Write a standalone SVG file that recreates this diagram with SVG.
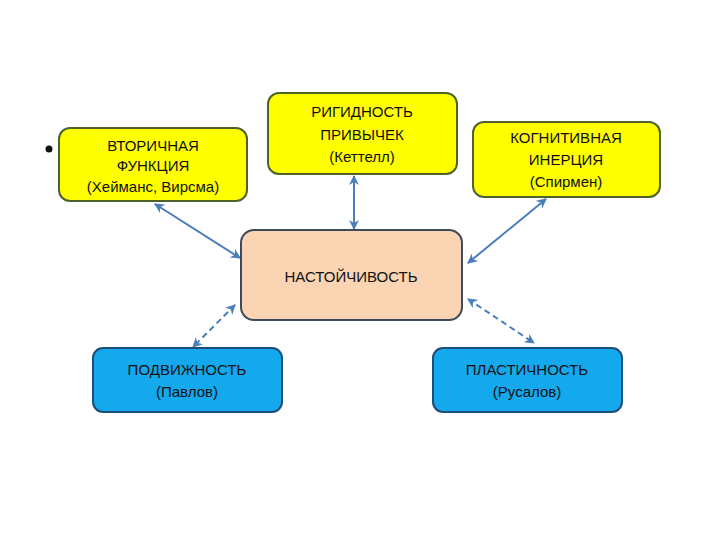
<svg xmlns="http://www.w3.org/2000/svg" width="720" height="540" viewBox="0 0 720 540">
<defs>
<marker id="ah" viewBox="0 0 10 10" refX="9" refY="5" markerWidth="5" markerHeight="5" orient="auto-start-reverse" markerUnits="strokeWidth">
<path d="M0,0 L10,5 L0,10 L3,5 Z" fill="#4A7EBB"/>
</marker>
</defs>
<style>
text{font-family:"Liberation Sans",Arial,sans-serif;font-size:15px;fill:#111;text-anchor:middle}
.y{fill:#FFFF00;stroke:#4F6228;stroke-width:2}
.c{fill:#FBD4B4;stroke:#3C4A5C;stroke-width:2}
.b{fill:#14A8EC;stroke:#1F4E79;stroke-width:2}
.a{stroke:#4A7EBB;stroke-width:2;fill:none;marker-start:url(#ah);marker-end:url(#ah)}
.d{stroke-dasharray:6,4}
</style>
<rect width="720" height="540" fill="#fff"/>
<circle cx="49" cy="149" r="3.5" fill="#111"/>
<g id="connectors">
<line class="a" x1="155" y1="204" x2="240" y2="258"/>
<line class="a" x1="354" y1="176" x2="354" y2="229"/>
<line class="a" x1="546" y1="199" x2="468" y2="263"/>
<line class="a d" x1="235" y1="305" x2="193" y2="347"/>
<line class="a d" x1="468" y1="299" x2="534" y2="343"/>
</g>
<g id="n_vtorichnaya">
<rect class="y" x="59" y="128" width="188" height="73" rx="11"/>
<text x="153" y="151">ВТОРИЧНАЯ</text>
<text x="153" y="171">ФУНКЦИЯ</text>
<text x="153" y="192">(Хейманс, Вирсма)</text>
</g>
<g id="n_rigidnost">
<rect class="y" x="268" y="93" width="189" height="81" rx="11"/>
<text x="362" y="117">РИГИДНОСТЬ</text>
<text x="362" y="140">ПРИВЫЧЕК</text>
<text x="362" y="162">(Кеттелл)</text>
</g>
<g id="n_kognitivnaya">
<rect class="y" x="473" y="122" width="187" height="75" rx="11"/>
<text x="566" y="143">КОГНИТИВНАЯ</text>
<text x="566" y="165">ИНЕРЦИЯ</text>
<text x="566" y="187">(Спирмен)</text>
</g>
<g id="n_nastoychivost">
<rect class="c" x="241" y="230" width="221" height="90" rx="13"/>
<text x="351" y="282">НАСТОЙЧИВОСТЬ</text>
</g>
<g id="n_podvizhnost">
<rect class="b" x="93" y="348" width="189" height="64" rx="10"/>
<text x="187" y="375">ПОДВИЖНОСТЬ</text>
<text x="187" y="397">(Павлов)</text>
</g>
<g id="n_plastichnost">
<rect class="b" x="433" y="348" width="189" height="64" rx="10"/>
<text x="527" y="375">ПЛАСТИЧНОСТЬ</text>
<text x="527" y="397">(Русалов)</text>
</g>
</svg>
